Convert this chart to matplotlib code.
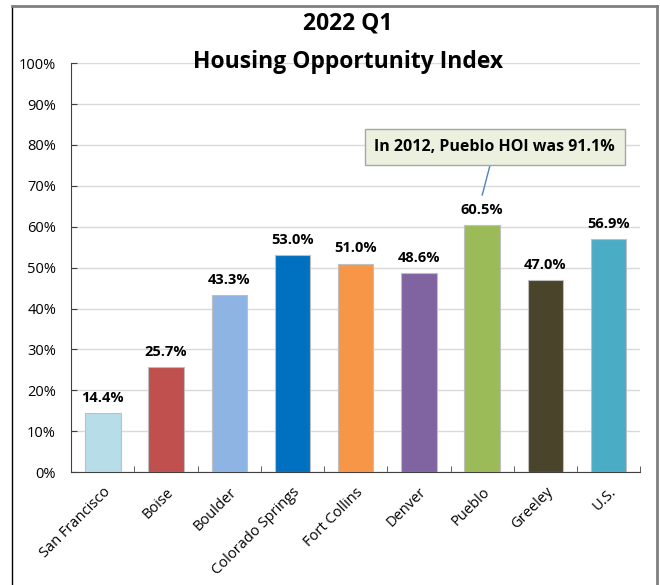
import matplotlib.pyplot as plt
from matplotlib.lines import Line2D
from matplotlib.ticker import PercentFormatter, MultipleLocator

plt.rcParams['font.family'] = ['Open Sans', 'DejaVu Sans']

cities = ["San Francisco", "Boise", "Boulder", "Colorado Springs", "Fort Collins",
          "Denver", "Pueblo", "Greeley", "U.S."]
hoi = [14.4, 25.7, 43.3, 53.0, 51.0, 48.6, 60.5, 47.0, 56.9]
colors = ["#B7DDE8", "#C0504D", "#8EB4E3", "#0070C0", "#F79646",
          "#8064A2", "#9BBB59", "#4A452A", "#4BACC6"]
note = "In 2012, Pueblo HOI was 91.1%"

fig = plt.figure(figsize=(6.6, 5.85), dpi=100)
ax = fig.add_axes([0.108, 0.193, 0.862, 0.699])

x = range(len(cities))
bars = ax.bar(x, hoi, width=0.56, color=colors, edgecolor="#BFBFBF", linewidth=0.8, zorder=3)
for xi, v in zip(x, hoi):
    ax.text(xi, v + 2.0, f"{v:.1f}%", ha="center", va="bottom", fontsize=10.5, fontweight="bold")

ax.set_ylim(0, 100)
ax.set_xlim(-0.5, len(cities) - 0.5)
ax.yaxis.set_major_locator(MultipleLocator(10))
ax.yaxis.set_major_formatter(PercentFormatter(decimals=0))
ax.grid(axis="y", color="#D9D9D9", linewidth=1, zorder=0)
for s in ["top", "right"]:
    ax.spines[s].set_visible(False)
ax.spines["left"].set_color("#404040")
ax.spines["bottom"].set_color("#404040")

ax.set_xticks(x)
ax.set_xticklabels(cities, rotation=45, ha="right", rotation_mode="anchor", fontsize=10.5)
ax.tick_params(axis="x", length=0, pad=9)
ax.set_xticks([i + 0.5 for i in range(-1, len(cities))], minor=True)
ax.tick_params(axis="x", which="minor", direction="in", length=4, color="#404040")
ax.tick_params(axis="y", direction="in", length=4, labelsize=10.5, pad=11, color="#404040")

ax.annotate(note, xy=(6, 67.7), xytext=(6.2, 79.5), ha="center", va="center",
            fontsize=11.5, fontweight="bold",
            bbox=dict(boxstyle="square,pad=0.6", fc="#EBF1DE", ec="#A6A6A6", lw=1),
            arrowprops=dict(arrowstyle="-", color="#4F81BD", lw=1, shrinkA=0, shrinkB=0))

fig.text(0.527, 0.959, "2022 Q1", ha="center", va="center", fontsize=16.5, fontweight="bold")
fig.text(0.527, 0.894, "Housing Opportunity Index", ha="center", va="center",
         fontsize=16.5, fontweight="bold")

# chart area border
fig.add_artist(Line2D([0.018, 0.018], [0, 0.99], color="black", lw=1))
fig.add_artist(Line2D([0.018, 0.995], [0.99, 0.99], color="#7F7F7F", lw=2))
fig.add_artist(Line2D([0.995, 0.995], [0, 0.99], color="#7F7F7F", lw=2))

fig.savefig("out.png", dpi=100)
